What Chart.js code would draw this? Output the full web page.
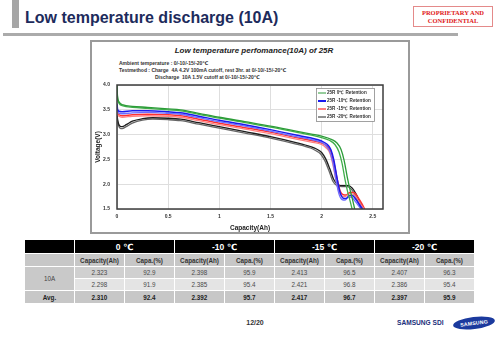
<!DOCTYPE html>
<html>
<head>
<meta charset="utf-8">
<script src="https://cdn.jsdelivr.net/npm/chart.js@4/dist/chart.umd.min.js"></script>
<style>
  html, body { margin: 0; padding: 0; }
  body { width: 500px; height: 345px; position: relative; overflow: hidden; background: #fff;
         font-family: 'Liberation Sans', Arial, 'DejaVu Sans', sans-serif; }
  .abs { position: absolute; }
  #bar { left: 12px; top: 0; width: 7px; height: 28px; background: #a6a6a6; }
  #title { left: 25px; top: 8px; font-size: 16px; line-height: 20px; font-weight: bold; color: #1d2b5c; white-space: nowrap; }
  #rule { left: 3px; top: 33px; width: 455px; height: 3px; background: #ababab; }
  #stamp { left: 413px; top: 6px; width: 80px; height: 21px; box-sizing: border-box; border: 1px solid #e48a8a;
           font-family: 'Liberation Serif', 'Times New Roman', serif; font-weight: bold; font-size: 6.5px;
           line-height: 8px; padding-top: 2px; text-align: center; color: #e01818; }
  #panel { left: 90px; top: 40px; width: 316px; height: 190px; border: 2px solid #9a9a9a; background: #fff; }
  #chartTitle { left: 104px; top: 46px; width: 300px; text-align: center; font-size: 8px; line-height: 10px;
                font-weight: bold; font-style: italic; color: #222; }
  #notes { left: 119px; top: 59.5px; font-size: 5px; line-height: 7px; font-weight: bold; color: #333; white-space: nowrap; }
  #notes .indent { padding-left: 36px; }
  #wrap { left: 92px; top: 42px; width: 316px; height: 190px; }
  #grid { left: 25px; top: 240px; display: grid; grid-template-columns: repeat(9, 49px);
          grid-template-rows: 13px 12px 11px 11px 12px; gap: 1px; background: #fff; }
  #grid div { display: flex; align-items: center; justify-content: center; font-size: 6.3px; color: #4a4a4a; }
  #grid .hd { background: #000; color: #fff; font-weight: bold; font-size: 8.5px; }
  #grid .sub { background: #c7c7c7; color: #333; font-weight: bold; }
  #grid .r1 { background: #d0d0d0; }
  #grid .r2 { background: #e4e4e4; }
  #grid .avg { background: #c7c7c7; color: #222; font-weight: bold; }
  #grid .lab { background: #c9c9c9; color: #444; }
  #page { left: 230px; top: 318px; width: 50px; text-align: center; font-size: 7px; line-height: 10px; font-weight: bold; color: #333; }
  #sdi { left: 397px; top: 318px; font-size: 6.6px; line-height: 10px; font-weight: bold; color: #1a2f7a; white-space: nowrap; }
  #logo { left: 453px; top: 317px; width: 42px; height: 12px; border-radius: 50%; background: #1b3a9e;
          transform: rotate(-7deg); display: flex; align-items: center; justify-content: center;
          color: #fff; font-size: 5.2px; font-weight: bold; letter-spacing: 0.2px; }
</style>
</head>
<body>
<div id="bar" class="abs"></div>
<div id="title" class="abs">Low temperature discharge (10A)</div>
<div id="rule" class="abs"></div>
<div id="stamp" class="abs">PROPRIETARY AND<br>CONFIDENTIAL</div>
<div id="panel" class="abs"></div>
<div id="chartTitle" class="abs">Low temperature perfomance(10A) of 25R</div>
<div id="notes" class="abs">
  <div>Ambient temperature : 0/-10/-15/-20℃</div>
  <div>Testmethod : Charge&nbsp; 4A 4.2V 100mA cutoff, rest 3hr. at 0/-10/-15/-20℃</div>
  <div class="indent">Discharge&nbsp; 10A 1.5V cutoff at 0/-10/-15/-20℃</div>
</div>
<div id="wrap" class="abs"><canvas id="c" width="316" height="190"></canvas></div>
<div id="grid" class="abs"></div>
<div id="page" class="abs">12/20</div>
<div id="sdi" class="abs">SAMSUNG SDI</div>
<div id="logo" class="abs">SAMSUNG</div>

<script>
// ---- Test results (discharge capacity to 1.5 V cutoff, two cells per temperature) ----
const temps = ['0 ℃', '-10 ℃', '-15 ℃', '-20 ℃'];
const cell1Ah = [2.323, 2.398, 2.413, 2.407];
const cell1Pct = [92.9, 95.9, 96.5, 96.3];
const cell2Ah = [2.298, 2.385, 2.421, 2.386];
const cell2Pct = [91.9, 95.4, 96.8, 95.4];
const avgAh = [2.310, 2.392, 2.417, 2.397];
const avgPct = [92.4, 95.7, 96.7, 95.9];
const cutoffV = 1.5;

// ---- Discharge curves: capacity (Ah) and voltage (V) up to just before cutoff ----
const capG1 = [0, 0.005, 0.02, 0.06, 0.15, 0.3, 0.5, 0.62, 0.8, 1.0, 1.25, 1.5, 1.75, 1.9, 2.0, 2.1, 2.15, 2.19, 2.22, 2.25, 2.28, 2.3];
const voltG1 = [4.0, 3.78, 3.66, 3.60, 3.57, 3.55, 3.52, 3.50, 3.43, 3.35, 3.26, 3.17, 3.07, 3.01, 2.97, 2.90, 2.83, 2.70, 2.48, 2.15, 1.87, 1.71];
const capG2 = [0, 0.005, 0.02, 0.06, 0.15, 0.3, 0.5, 0.62, 0.8, 1.0, 1.25, 1.5, 1.75, 1.9, 2.0, 2.08, 2.13, 2.17, 2.2, 2.23, 2.255, 2.275];
const voltG2 = [3.95, 3.74, 3.63, 3.58, 3.55, 3.53, 3.50, 3.48, 3.41, 3.33, 3.24, 3.15, 3.05, 2.99, 2.94, 2.88, 2.80, 2.65, 2.42, 2.08, 1.84, 1.69];

const capB1 = [0, 0.005, 0.02, 0.05, 0.15, 0.3, 0.5, 0.62, 0.8, 1.0, 1.25, 1.5, 1.75, 1.9, 2.0, 2.05, 2.09, 2.12, 2.15, 2.18, 2.21, 2.24, 2.27, 2.3, 2.34, 2.37];
const voltB1 = [3.62, 3.52, 3.47, 3.46, 3.48, 3.48, 3.46, 3.44, 3.37, 3.29, 3.20, 3.10, 2.99, 2.93, 2.87, 2.81, 2.70, 2.48, 2.13, 1.84, 1.72, 1.71, 1.77, 1.77, 1.68, 1.59];
const capB2 = [0, 0.005, 0.02, 0.05, 0.15, 0.3, 0.5, 0.62, 0.8, 1.0, 1.25, 1.5, 1.75, 1.9, 2.0, 2.04, 2.08, 2.11, 2.14, 2.17, 2.2, 2.23, 2.26, 2.29, 2.33, 2.36];
const voltB2 = [3.58, 3.48, 3.43, 3.42, 3.44, 3.45, 3.43, 3.41, 3.34, 3.26, 3.17, 3.07, 2.96, 2.90, 2.84, 2.78, 2.66, 2.44, 2.09, 1.80, 1.69, 1.68, 1.74, 1.74, 1.65, 1.57];

const capR1 = [0, 0.005, 0.02, 0.05, 0.15, 0.3, 0.5, 0.62, 0.8, 1.0, 1.25, 1.5, 1.75, 1.9, 2.0, 2.04, 2.08, 2.11, 2.14, 2.17, 2.2, 2.23, 2.27, 2.31, 2.35, 2.38];
const voltR1 = [3.51, 3.42, 3.37, 3.35, 3.37, 3.38, 3.37, 3.35, 3.28, 3.20, 3.11, 3.02, 2.91, 2.85, 2.80, 2.74, 2.63, 2.40, 2.08, 1.84, 1.76, 1.75, 1.81, 1.80, 1.70, 1.60];
const capR2 = [0, 0.005, 0.02, 0.05, 0.15, 0.3, 0.5, 0.62, 0.8, 1.0, 1.25, 1.5, 1.75, 1.9, 2.0, 2.05, 2.09, 2.12, 2.15, 2.18, 2.21, 2.24, 2.28, 2.32, 2.36, 2.39];
const voltR2 = [3.55, 3.45, 3.40, 3.38, 3.40, 3.41, 3.40, 3.38, 3.31, 3.23, 3.14, 3.05, 2.94, 2.88, 2.83, 2.77, 2.66, 2.44, 2.12, 1.87, 1.79, 1.78, 1.84, 1.83, 1.72, 1.62];

const capK1 = [0, 0.005, 0.015, 0.03, 0.05, 0.09, 0.15, 0.25, 0.35, 0.5, 0.62, 0.8, 1.0, 1.25, 1.5, 1.75, 1.89, 1.95, 2.0, 2.04, 2.08, 2.12, 2.16, 2.21, 2.26, 2.3, 2.34, 2.37];
const voltK1 = [3.42, 3.32, 3.22, 3.17, 3.16, 3.20, 3.27, 3.32, 3.34, 3.33, 3.31, 3.24, 3.16, 3.06, 2.96, 2.84, 2.76, 2.71, 2.64, 2.51, 2.31, 2.09, 1.99, 1.97, 1.97, 1.92, 1.79, 1.65];
const capK2 = [0, 0.005, 0.015, 0.03, 0.05, 0.09, 0.15, 0.25, 0.35, 0.5, 0.62, 0.8, 1.0, 1.25, 1.5, 1.75, 1.89, 1.94, 1.99, 2.03, 2.07, 2.11, 2.15, 2.2, 2.25, 2.29, 2.33, 2.356];
const voltK2 = [3.38, 3.28, 3.18, 3.13, 3.12, 3.16, 3.23, 3.29, 3.31, 3.30, 3.28, 3.21, 3.13, 3.03, 2.93, 2.81, 2.73, 2.68, 2.61, 2.48, 2.28, 2.06, 1.97, 1.95, 1.95, 1.90, 1.77, 1.64];

// ---- Axis ticks ----
const xTicks = [0, 0.5, 1, 1.5, 2, 2.5];
const yTicks = [1.5, 2.0, 2.5, 3.0, 3.5, 4.0];

// ---- Table ----
(function buildTable() {
  const g = document.getElementById('grid');
  const add = (cls, text, style) => {
    const d = document.createElement('div');
    d.className = cls; d.textContent = text;
    if (style) Object.assign(d.style, style);
    g.appendChild(d);
  };
  add('hd', '');
  temps.forEach(t => add('hd', t, { gridColumn: 'span 2' }));
  add('sub', '');
  temps.forEach(() => { add('sub', 'Capacity(Ah)'); add('sub', 'Capa.(%)'); });
  add('lab', '10A', { gridRow: 'span 2' });
  temps.forEach((t, i) => { add('r1', cell1Ah[i].toFixed(3)); add('r1', cell1Pct[i].toFixed(1)); });
  temps.forEach((t, i) => { add('r2', cell2Ah[i].toFixed(3)); add('r2', cell2Pct[i].toFixed(1)); });
  add('avg', 'Avg.');
  temps.forEach((t, i) => { add('avg', avgAh[i].toFixed(3)); add('avg', avgPct[i].toFixed(1)); });
})();

// ---- Chart ----
Chart.defaults.font.family = "'Liberation Sans', Arial, 'DejaVu Sans', sans-serif";

const curve = (caps, volts, endAh) =>
  caps.map((x, i) => ({ x, y: volts[i] })).concat([{ x: endAh, y: cutoffV }]);

const legendLabels = temps.map(t => '25R ' + t.replace(' ', '') + ' Retention');

const series = [
  { data: curve(capG1, voltG1, cell1Ah[0]), color: '#2c9c38', group: 0, w: 1.3 },
  { data: curve(capG2, voltG2, cell2Ah[0]), color: '#3fae4a', group: 0, w: 1.3 },
  { data: curve(capB1, voltB1, cell1Ah[1]), color: '#1a1af0', group: 1, w: 1.5 },
  { data: curve(capB2, voltB2, cell2Ah[1]), color: '#6c6cff', group: 1, w: 1.3 },
  { data: curve(capR1, voltR1, cell1Ah[2]), color: '#ff8080', group: 2, w: 1.3 },
  { data: curve(capR2, voltR2, cell2Ah[2]), color: '#ff3030', group: 2, w: 1.5 },
  { data: curve(capK1, voltK1, cell1Ah[3]), color: '#1e1e1e', group: 3, w: 1.3 },
  { data: curve(capK2, voltK2, cell2Ah[3]), color: '#666666', group: 3, w: 1.3 }
];

const legendStyle = [
  { color: '#2c9c38', w: 1 },
  { color: '#1a1af0', w: 2 },
  { color: '#ff8080', w: 2 },
  { color: '#222222', w: 1 }
];

// plot frame and boxed legend in the upper right of the plot
const frameLegend = {
  id: 'frameLegend',
  afterDatasetsDraw(chart) {
    const { ctx, chartArea: a } = chart;
    ctx.save();
    ctx.strokeStyle = '#3c3c3c';
    ctx.lineWidth = 1.5;
    ctx.strokeRect(a.left, a.top, a.right - a.left, a.bottom - a.top);

    const bx = a.right - 67, by = a.top + 3, bw = 58, bh = 33;
    ctx.fillStyle = '#fff';
    ctx.fillRect(bx, by, bw, bh);
    ctx.strokeStyle = '#8a8a8a';
    ctx.lineWidth = 0.8;
    ctx.strokeRect(bx + 0.5, by + 0.5, bw, bh);
    ctx.font = "bold 4.6px 'Liberation Sans', Arial, sans-serif";
    ctx.textBaseline = 'middle';
    legendLabels.forEach((lab, i) => {
      const y = by + 5 + i * 8;
      ctx.strokeStyle = legendStyle[i].color;
      ctx.lineWidth = legendStyle[i].w;
      ctx.beginPath();
      ctx.moveTo(bx + 2, y);
      ctx.lineTo(bx + 10, y);
      ctx.stroke();
      ctx.fillStyle = '#333';
      ctx.fillText(lab, bx + 11, y);
    });
    ctx.restore();
  }
};

new Chart(document.getElementById('c'), {
  type: 'line',
  data: {
    datasets: series.map(s => ({
      label: legendLabels[s.group],
      data: s.data,
      borderColor: s.color,
      backgroundColor: s.color,
      borderWidth: s.w,
      pointRadius: 0,
      cubicInterpolationMode: 'monotone',
      fill: false
    }))
  },
  options: {
    responsive: false,
    animation: false,
    devicePixelRatio: 1,
    layout: { padding: { left: 0, top: 43, right: 25, bottom: 0 } },
    plugins: { legend: { display: false }, tooltip: { enabled: false }, title: { display: false } },
    scales: {
      x: {
        type: 'linear', min: 0, max: 2.6,
        afterBuildTicks: s => { s.ticks = xTicks.map(v => ({ value: v })); },
        afterFit: s => { s.height = 23; },
        grid: { color: '#dedede', lineWidth: 1, drawTicks: false },
        border: { display: false },
        ticks: { padding: 5, color: '#333', font: { size: 5, weight: 'bold' }, callback: v => String(v) },
        title: { display: true, text: 'Capacity(Ah)', color: '#222', font: { size: 6.5, weight: 'bold' }, padding: { top: 0, bottom: 0 } }
      },
      y: {
        type: 'linear', min: 1.5, max: 4.0,
        afterBuildTicks: s => { s.ticks = yTicks.map(v => ({ value: v })); },
        afterFit: s => { s.width = 25; },
        grid: { color: '#dedede', lineWidth: 1, drawTicks: false },
        border: { display: false },
        ticks: { padding: 7, color: '#333', font: { size: 5, weight: 'bold' }, callback: v => v.toFixed(1) },
        title: { display: true, text: 'Voltage(V)', color: '#222', font: { size: 6.5, weight: 'bold' }, padding: { top: 2, bottom: 0 } }
      }
    }
  },
  plugins: [frameLegend]
});
</script>
</body>
</html>
